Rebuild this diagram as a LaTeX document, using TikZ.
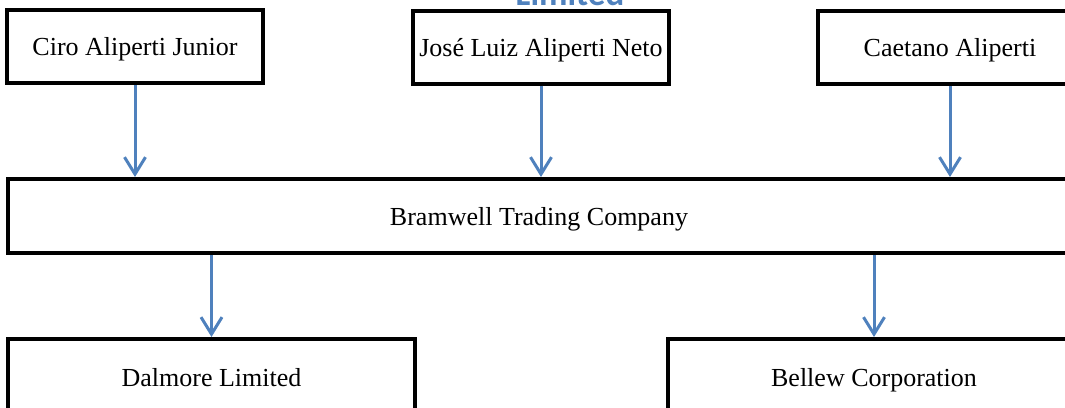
\documentclass[tikz,border=0pt]{standalone}
\usepackage{fontspec}
\setmainfont{Liberation Serif}
\newfontfamily\titlefont{Carlito}
\usetikzlibrary{arrows.meta, positioning}

\definecolor{flowblue}{RGB}{79,129,189}

\begin{document}
\begin{tikzpicture}[x=1pt, y=-1pt]
    % --- Style Definitions ---
    \tikzset{
        box style/.style={
            draw=black,
            line width=4pt,
            fill=white,
            inner sep=0pt,
            text height=20pt,
            text depth=2pt,
            font=\fontsize{26}{30}\selectfont
        },
        flow arrow/.style={
            -{Straight Barb[length=17pt, width=21pt]},
            line width=3pt,
            flowblue
        },
        title text/.style={
            font=\titlefont\bfseries\fontsize{35}{40}\selectfont,
            color=flowblue,
            anchor=base,
            inner sep=0pt
        }
    }

    % Page frame
    \useasboundingbox (0,0) rectangle (1065,407);
    \clip (0,0) rectangle (1065,407);

    % --- 1. Cut-off title at the top ---
    \node[title text] (title) at (570,5) {Limited};

    % --- 2. Owners ---
    \node[box style, minimum width=256pt, minimum height=73pt] (ciro) at (135,46.5) {Ciro Aliperti Junior};
    \node[box style, minimum width=256pt, minimum height=73pt] (jose) at (541,47) {José Luiz Aliperti Neto};
    \node[box style, minimum width=264pt, minimum height=73pt] (caet) at (950,47.5) {Caetano Aliperti};

    % --- 3. Holding company ---
    \node[box style, minimum width=1062pt, minimum height=74pt] (bram) at (539,216) {Bramwell Trading Company};

    % --- 4. Subsidiaries ---
    \node[box style, minimum width=407pt, minimum height=76pt] (dal) at (211.5,377) {Dalmore Limited};
    \node[box style, minimum width=412pt, minimum height=76pt] (bel) at (874,377) {Bellew Corporation};

    % --- 5. Arrows ---
    \draw[flow arrow] (ciro.south) -- (ciro.south |- bram.north);
    \draw[flow arrow] (jose.south) -- (jose.south |- bram.north);
    \draw[flow arrow] (caet.south) -- (caet.south |- bram.north);

    \draw[flow arrow] (bram.south -| dal.north) -- (dal.north);
    \draw[flow arrow] (bram.south -| bel.north) -- (bel.north);

\end{tikzpicture}
\end{document}
